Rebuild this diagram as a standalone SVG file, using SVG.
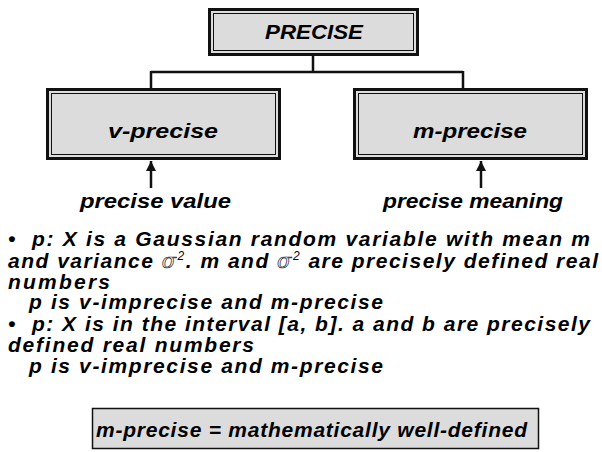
<svg xmlns="http://www.w3.org/2000/svg" width="602" height="452" viewBox="0 0 602 452">
<style>
  .box-outer { fill: #dcdcdc; stroke: #111; stroke-width: 3; }
  .box-inner { fill: none; stroke: #111; stroke-width: 1; }
  .lbl { font-family: "Liberation Sans", Arial, sans-serif; font-style: italic; font-weight: bold; font-size: 21px; fill: #000; }
  .conn { fill: none; stroke: #111; stroke-width: 2.5; }
  .body { font-family: "Liberation Sans", Arial, sans-serif; font-style: italic; font-weight: bold; font-size: 21px; fill: #000; }
  .sym { font-family: "DejaVu Serif", "Liberation Serif", serif; font-weight: normal; font-style: italic; fill: #f4f4f4; stroke: #222; stroke-width: 0.7; }
  .sup { font-size: 12px; font-weight: normal; }
</style>
<defs>
  <marker id="ah" viewBox="0 0 10 10" refX="10" refY="5" markerWidth="10" markerHeight="10" markerUnits="userSpaceOnUse" orient="auto">
    <path d="M0,0 L10,5 L0,10 Z" fill="#111"/>
  </marker>
</defs>

<g id="connectors">
  <path class="conn" d="M313,55 V72 M151,72 H463 M151,71 V89 M463,71 V89"/>
  <line class="conn" x1="151" y1="188" x2="151" y2="161" marker-end="url(#ah)"/>
  <line class="conn" x1="481" y1="188" x2="481" y2="161" marker-end="url(#ah)"/>
</g>

<g id="node-precise">
  <rect class="box-outer" x="209.5" y="9.5" width="208" height="45"/>
  <rect class="box-inner" x="213.5" y="13.5" width="200" height="37"/>
  <text class="lbl" x="265" y="39" textLength="98" lengthAdjust="spacingAndGlyphs" font-weight="normal">PRECISE</text>
</g>

<g id="node-v-precise">
  <rect class="box-outer" x="47.5" y="89.5" width="232" height="69"/>
  <rect class="box-inner" x="51.5" y="93.5" width="224" height="61"/>
  <text class="lbl" x="108" y="138" textLength="110" lengthAdjust="spacingAndGlyphs">v-precise</text>
</g>

<g id="node-m-precise">
  <rect class="box-outer" x="354.5" y="89.5" width="232" height="69"/>
  <rect class="box-inner" x="358.5" y="93.5" width="224" height="61"/>
  <text class="lbl" x="413" y="138" textLength="114" lengthAdjust="spacingAndGlyphs">m-precise</text>
</g>

<g id="label-precise-value">
  <text class="lbl" x="80" y="208" textLength="151" lengthAdjust="spacingAndGlyphs">precise value</text>
</g>
<g id="label-precise-meaning">
  <text class="lbl" x="383" y="208" textLength="180" lengthAdjust="spacingAndGlyphs">precise meaning</text>
</g>

<g id="bullets">
  <text class="body" x="8" y="246">•</text>
  <text class="body" x="32" y="246" textLength="558" lengthAdjust="spacing">p: X is a Gaussian random variable with mean m</text>
  <text class="body" x="8" y="268" textLength="590" lengthAdjust="spacing">and variance <tspan class="sym">σ</tspan><tspan class="sup" dy="-8">2</tspan><tspan dy="8">. m and </tspan><tspan class="sym">σ</tspan><tspan class="sup" dy="-8">2</tspan><tspan dy="8"> are precisely defined real</tspan></text>
  <text class="body" x="8" y="289" textLength="102" lengthAdjust="spacing">numbers</text>
  <text class="body" x="29" y="309" textLength="354" lengthAdjust="spacing">p is v-imprecise and m-precise</text>
  <text class="body" x="8" y="331">•</text>
  <text class="body" x="32" y="331" textLength="558" lengthAdjust="spacing">p: X is in the interval [a, b]. a and b are precisely</text>
  <text class="body" x="8" y="352" textLength="246" lengthAdjust="spacing">defined real numbers</text>
  <text class="body" x="29" y="373" textLength="354" lengthAdjust="spacing">p is v-imprecise and m-precise</text>
</g>

<g id="node-definition">
  <rect x="92.5" y="408.5" width="446" height="40" fill="#dcdcdc" stroke="#111" stroke-width="1.5"/>
  <text class="body" x="96" y="437" textLength="431" lengthAdjust="spacing">m-precise = mathematically well-defined</text>
</g>
</svg>
